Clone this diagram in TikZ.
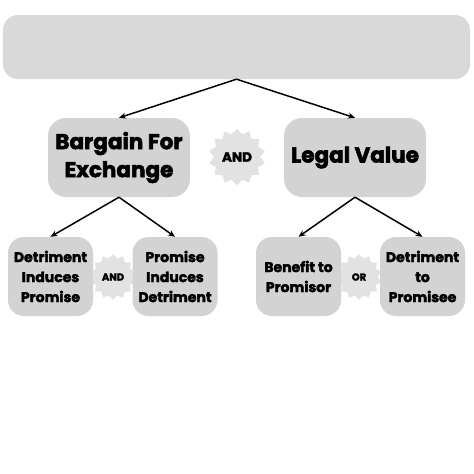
\documentclass[tikz,border=0pt]{standalone}
\usepackage{fontspec}
\setmainfont{Poppins}[BoldFeatures={FakeBold=2.6}]
\usetikzlibrary{shapes.geometric,arrows.meta}
\definecolor{topgray}{HTML}{D9D9D9}
\definecolor{boxgray}{HTML}{D3D3D3}
\definecolor{stargray}{HTML}{E2E2E2}
\tikzset{
  bigbox/.style={fill=boxgray, rounded corners=18pt, minimum width=142pt, minimum height=79pt, align=center, font=\fontsize{21.5}{28}\selectfont\bfseries, inner sep=0pt},
  smallbox/.style={fill=boxgray, rounded corners=16pt, minimum width=85pt, minimum height=79pt, align=center, font=\fontsize{14}{20}\selectfont\bfseries, inner sep=0pt},
  burst/.style={star, star points=14, star point ratio=1.22, fill=stargray, inner sep=0pt},
  arr/.style={-{Stealth[length=7pt,width=6pt]}, line width=1.5pt, black}
}
\begin{document}
\begin{tikzpicture}[x=1pt,y=-1pt]
\useasboundingbox (0,0) rectangle (474,474);
% stars
\node[burst, minimum size=57pt] (s1) at (237,157) {};
\node[font=\fontsize{13.5}{15}\selectfont\bfseries] (t1) at (s1) {AND};
\node[burst, minimum size=46pt] (s2) at (113,277) {};
\node[font=\fontsize{10}{12}\selectfont\bfseries] (t2) at (s2) {AND};
\node[burst, minimum size=46pt] (s3) at (359,277) {};
\node[font=\fontsize{10}{12}\selectfont\bfseries] (t3) at (s3) {OR};
% boxes
\node[fill=topgray, rounded corners=15pt, minimum width=467pt, minimum height=64pt, inner sep=0pt] (top) at (236.5,47) {};
\node[bigbox] (bfe) at (119,157.5) {Bargain For\\Exchange};
\node[bigbox] (lv) at (355,157.5) {Legal Value};
\node[smallbox] (dip) at (50.5,276.5) {Detriment\\Induces\\Promise};
\node[smallbox] (pid) at (175,276.5) {Promise\\Induces\\Detriment};
\node[smallbox] (btp) at (298.5,276.5) {Benefit to\\Promisor};
\node[smallbox] (dtp) at (422.5,276.5) {Detriment\\to\\Promisee};
% arrows
\draw[arr] (top.south) -- (bfe.north);
\draw[arr] (top.south) -- (lv.north);
\draw[arr] (bfe.south) -- (dip.north);
\draw[arr] (bfe.south) -- (pid.north);
\draw[arr] (lv.south) -- (btp.north);
\draw[arr] (lv.south) -- (dtp.north);
\end{tikzpicture}
\end{document}
